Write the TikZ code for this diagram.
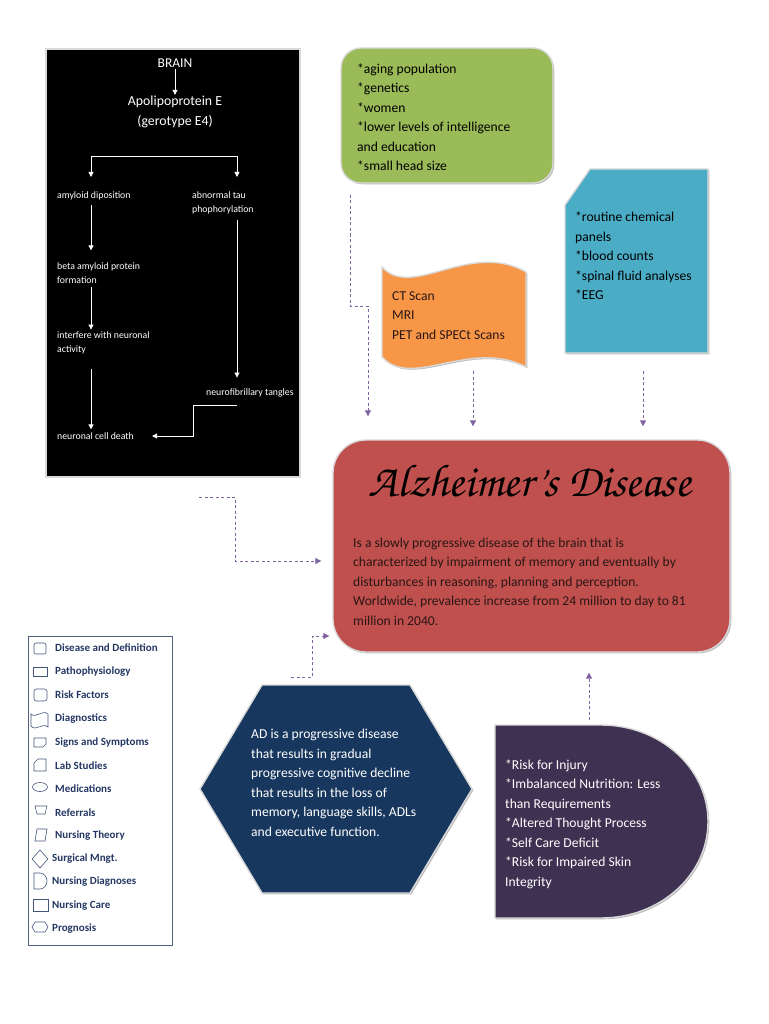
\documentclass[tikz,border=0pt]{standalone}
\usepackage{fontspec}
\setmainfont{Carlito}
\usetikzlibrary{arrows.meta,shadows,calc}
\definecolor{rfgreen}{HTML}{9BBB59}
\definecolor{rfblue}{HTML}{4BACC6}
\definecolor{rforange}{HTML}{F79646}
\definecolor{rfred}{HTML}{C0504D}
\definecolor{rfnavy}{HTML}{17375E}
\definecolor{rfpurple}{HTML}{3F3151}
\definecolor{rfconn}{HTML}{8064A2}
\definecolor{legnavy}{HTML}{243763}
\definecolor{darktxt}{HTML}{2A1616}
\newcommand{\chancery}{\fontencoding{OT1}\fontfamily{pzc}\fontseries{mb}\fontshape{it}\selectfont}
\begin{document}
\begin{tikzpicture}[x=1pt,y=-1pt,
  panel/.style={draw=white!85!black, line width=1.4pt,
    drop shadow={shadow xshift=1.3pt, shadow yshift=-1.3pt, fill=gray!60, opacity=0.9}},
  wtxt/.style={text=white, font=\fontsize{9.8}{14}\selectfont, inner sep=1pt, align=left, anchor=west},
  warrow/.style={draw=white, line width=0.8pt, -{Triangle[width=5pt,length=5pt]}},
  dconn/.style={draw=rfconn, line width=1pt, dash pattern=on 3pt off 2.5pt, -{Triangle[width=6pt,length=6pt]}},
  bodytxt/.style={font=\fontsize{13.6}{19.5}\selectfont, align=left, anchor=west, inner sep=0pt},
  legtxt/.style={font=\bfseries\fontsize{11}{12}\selectfont, text=legnavy, anchor=west, inner sep=0pt},
  icon/.style={draw=legnavy!85, line width=0.6pt}
]
\useasboundingbox (0,0) rectangle (768,1024);

% ---------- pathophysiology (black box)
\node[panel, fill=black, minimum width=254pt, minimum height=428pt, inner sep=0pt] (patho) at (173,263) {};
\node[text=white, font=\fontsize{13.5}{15}\selectfont, inner sep=1pt] (brain) at (175,63) {BRAIN};
\node[text=white, font=\fontsize{13.8}{20}\selectfont, align=center, inner sep=1pt] (apo) at (175,112) {Apolipoprotein E\\(gerotype E4)};
\node[wtxt] (amy) at (56,196) {amyloid diposition};
\node[wtxt] (tau) at (191,203) {abnormal tau\\phophorylation};
\node[wtxt] (beta) at (56,273) {beta amyloid protein\\formation};
\node[wtxt] (inter) at (56,343) {interfere with neuronal\\activity};
\node[wtxt] (death) at (56,436) {neuronal cell death};
\node[wtxt] (tang) at (205,393) {neurofibrillary tangles};
\coordinate (lx) at (91,156);
\coordinate (rx) at (237,156);
\draw[warrow] (brain.south) -- (apo.north);
\draw[warrow] (rx) -- (lx) -- ++(0,21);
\draw[warrow] (rx) -- ++(0,21);
\draw[warrow] (amy.south -| lx) ++(0,4) -- ($(beta.north -| lx)+(0,-11)$);
\draw[warrow] (beta.south -| lx) ++(0,2) -- ($(inter.north -| lx)+(0,-1)$);
\draw[warrow] (inter.south -| lx) ++(0,14) -- ($(death.north -| lx)+(0,-2)$);
\draw[warrow] (tau.south -| rx) ++(0,5) -- ($(tang.north -| rx)+(0,-10)$);
\coordinate (e1) at (237,405);
\coordinate (e2) at (193,405);
\draw[warrow] (e1) -- (e2) -- (e2 |- death.east) -- ([xshift=17pt]death.east);

% ---------- risk factors (green)
\node[panel, fill=rfgreen, rounded corners=20pt, minimum width=212pt, minimum height=135pt] (risk) at (447,115.5) {};
\node[bodytxt] (risktxt) at (357,117) {*aging population\\{}*genetics\\{}*women\\{}*lower levels of intelligence\\and education\\{}*small head size};

% ---------- lab studies (blue)
\path[panel, fill=rfblue] (565,205) -- (590,169) -- (708,169) -- (708,353) -- (565,353) -- cycle;
\node[bodytxt] (lab) at (575,256) {*routine chemical\\panels\\{}*blood counts\\{}*spinal fluid analyses\\{}*EEG};

% ---------- diagnostics (orange)
\path[panel, fill=rforange] (382,267) .. controls (412,300) and (470,240) .. (526,272)
  -- (526,367) .. controls (470,338) and (412,390) .. (382,357) -- cycle;
\node[bodytxt, text=darktxt] (diag) at (392,315.5) {CT Scan\\MRI\\PET and SPECt Scans};

% ---------- disease and definition (red)
\node[panel, fill=rfred, rounded corners=33pt, minimum width=397pt, minimum height=212pt] (def) at (531.5,546) {};
\node[font=\chancery\fontsize{46}{50}\selectfont, inner sep=0pt] (title) at (530,481) {Alzheimer's Disease};
\node[bodytxt, text=darktxt] (deftxt) at (353,581.5) {Is a slowly progressive disease of the brain that is\\characterized by impairment of memory and eventually by\\disturbances in reasoning, planning and perception.\\Worldwide, prevalence increase from 24 million to day to 81\\million in 2040.};

% ---------- prognosis (hexagon)
\path[panel, fill=rfnavy] (262,685) -- (410,685) -- (472,789) -- (410,893) -- (262,893) -- (200,789) -- cycle;
\node[bodytxt, text=white] (prog) at (251,783) {AD is a progressive disease\\that results in gradual\\progressive cognitive decline\\that results in the loss of\\memory, language skills, ADLs\\and executive function.};

% ---------- nursing diagnoses (D shape)
\path[panel, fill=rfpurple] (495,725) -- (601,725) .. controls (660,725) and (708,768) .. (708,821.5)
  .. controls (708,875) and (660,918) .. (601,918) -- (495,918) -- cycle;
\node[bodytxt, text=white] (ndx) at (505,824) {*Risk for Injury\\{}*Imbalanced Nutrition: Less\\than Requirements\\{}*Altered Thought Process\\{}*Self Care Deficit\\{}*Risk for Impaired Skin\\Integrity};

% ---------- connectors
\coordinate (r1) at (350,195);
\coordinate (r2) at (368,306);
\draw[dconn, shorten >=23pt] (r1) |- (r2) -- (r2 |- def.north);
\coordinate (o1) at (473,371);
\draw[dconn, shorten >=13pt] (o1) -- (o1 |- def.north);
\coordinate (b1) at (643,371);
\draw[dconn, shorten >=13pt] (b1) -- (b1 |- def.north);
\coordinate (p1) at (199,497);
\coordinate (p2) at (235,561);
\draw[dconn, shorten >=11pt] (p1) -| (p2) -- (p2 -| def.west);
\coordinate (h1) at (291,677);
\coordinate (h2) at (312,636);
\draw[dconn, shorten >=3pt] (h1) -| (h2) -- (h2 -| def.west);
\coordinate (d1) at (589,720);
\draw[dconn, shorten >=20pt] (d1) -- (d1 |- def.south);

% ---------- legend
\draw[draw=legnavy!80, line width=0.7pt] (28,636) rectangle (172,945);
\draw[icon, rounded corners=2pt] (34,643) rectangle (46,654);
\node[legtxt] (l1) at (55,648) {Disease and Definition};
\draw[icon] (33,667) rectangle (47,676);
\node[legtxt] (l2) at (55,672) {Pathophysiology};
\draw[icon, rounded corners=2.5pt] (34,689) rectangle (47,701);
\node[legtxt] (l3) at (55,695) {Risk Factors};
\draw[icon] (31,714) .. controls (36,719) and (42,709) .. (48,714) -- (48,727) .. controls (42,722) and (36,732) .. (31,726) -- cycle;
\node[legtxt] (l4) at (55,719) {Diagnostics};
\draw[icon] (34,738) -- (46,738) -- (46,744) -- (43,747) -- (34,747) -- cycle;
\node[legtxt] (l5) at (55,743) {Signs and Symptoms};
\draw[icon] (34,763) -- (38,759) -- (46,759) -- (46,771) -- (34,771) -- cycle;
\node[legtxt] (l6) at (55,766) {Lab Studies};
\draw[icon] (40,787) ellipse [x radius=7.5pt, y radius=4.5pt];
\node[legtxt] (l7) at (55,789) {Medications};
\draw[icon] (35,806) -- (47,806) -- (45,814) -- (37,814) -- cycle;
\node[legtxt] (l8) at (55,813) {Referrals};
\draw[icon] (37,829) -- (47,829) -- (45,841) -- (35,841) -- cycle;
\node[legtxt] (l9) at (55,836) {Nursing Theory};
\draw[icon] (40,850) -- (48,859) -- (40,868) -- (32,859) -- cycle;
\node[legtxt] (l10) at (52,859) {Surgical Mngt.};
\draw[icon] (34,873) -- (40,873) .. controls (44,873) and (47,877) .. (47,881) .. controls (47,885) and (44,889) .. (40,889) -- (34,889) -- cycle;
\node[legtxt] (l11) at (52,882) {Nursing Diagnoses};
\draw[icon] (33,899) rectangle (48,911);
\node[legtxt] (l12) at (52,906) {Nursing Care};
\draw[icon] (35,922) -- (45,922) -- (48,927) -- (45,932) -- (35,932) -- (32,927) -- cycle;
\node[legtxt] (l13) at (52,929) {Prognosis};
\end{tikzpicture}
\end{document}
